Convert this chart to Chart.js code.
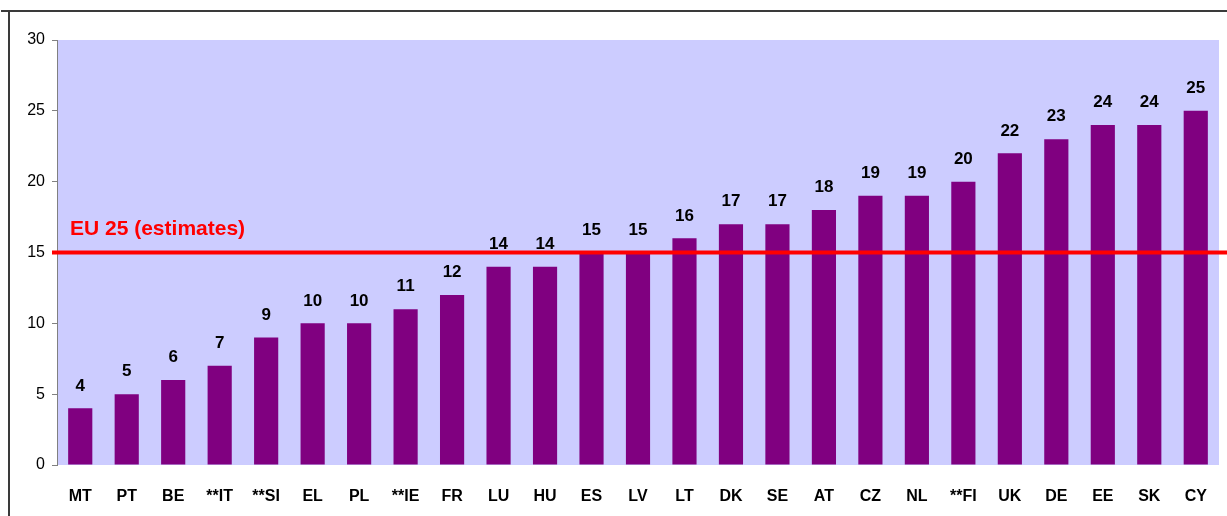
<!DOCTYPE html>
<html>
<head>
<meta charset="utf-8">
<script src="https://cdn.jsdelivr.net/npm/chart.js@4"></script>
<style>
    body { margin: 0; background: #ffffff; }
    #wrap { position: relative; width: 1227px; height: 516px; }
</style>
</head>
<body>
<div id="wrap"><canvas id="chart"></canvas></div>
<script>
// Chart data
const countries = ["MT", "PT", "BE", "**IT", "**SI", "EL", "PL", "**IE", "FR", "LU", "HU", "ES", "LV",
    "LT", "DK", "SE", "AT", "CZ", "NL", "**FI", "UK", "DE", "EE", "SK", "CY"];
const values = [4, 5, 6, 7, 9, 10, 10, 11, 12, 14, 14, 15, 15, 16, 17, 17, 18, 19, 19, 20, 22, 23, 24, 24, 25];
const euAverage = 15;
const euLabel = "EU 25 (estimates)";
const yTicks = [0, 5, 10, 15, 20, 25, 30];

const FONT = "Arial, 'Liberation Sans', sans-serif";

// background of plot area + outer frame
const backgroundPlugin = {
    id: "background",
    beforeDraw(chart) {
        const ctx = chart.ctx;
        const a = chart.chartArea;
        ctx.save();
        ctx.fillStyle = "#CCCCFF";
        ctx.fillRect(a.left, a.top, a.right - a.left, a.bottom - a.top);
        ctx.strokeStyle = "#3a3a3a";
        ctx.lineWidth = 2;
        ctx.beginPath();
        ctx.moveTo(1, 11);
        ctx.lineTo(chart.width, 11);
        ctx.moveTo(9, 11);
        ctx.lineTo(9, chart.height);
        ctx.stroke();
        ctx.restore();
    }
};

// value labels, EU line and its label
const overlayPlugin = {
    id: "overlay",
    afterDatasetsDraw(chart) {
        const ctx = chart.ctx;
        const meta = chart.getDatasetMeta(0);
        ctx.save();
        ctx.fillStyle = "#000000";
        ctx.font = "bold 17px " + FONT;
        ctx.textAlign = "center";
        ctx.textBaseline = "bottom";
        meta.data.forEach(function (bar, i) {
            ctx.fillText(String(values[i]), bar.x, bar.y - 14);
        });

        const y = chart.scales.y.getPixelForValue(euAverage);
        ctx.strokeStyle = "#FF0000";
        ctx.lineWidth = 4;
        ctx.beginPath();
        ctx.moveTo(52, y);
        ctx.lineTo(chart.width, y);
        ctx.stroke();

        ctx.fillStyle = "#FF0000";
        ctx.font = "bold 21px " + FONT;
        ctx.textAlign = "left";
        ctx.textBaseline = "middle";
        ctx.fillText(euLabel, 70, y - 23);
        ctx.restore();
    }
};

new Chart(document.getElementById("chart").getContext("2d"), {
    type: "bar",
    data: {
        labels: countries,
        datasets: [
            {
                data: values,
                backgroundColor: "#800080",
                borderWidth: 0,
                barPercentage: 0.52,
                categoryPercentage: 1.0,
            },
        ],
    },
    options: {
        responsive: true,
        maintainAspectRatio: false,
        animation: false,
        layout: { padding: { left: 0, top: 40, right: 8, bottom: 0 } },
        plugins: {
            legend: { display: false },
            tooltip: { enabled: false },
        },
        scales: {
            x: {
                grid: { display: false },
                border: { display: false },
                ticks: {
                    color: "#000000",
                    font: { family: FONT, size: 16, weight: "bold" },
                    padding: 14,
                    maxRotation: 0,
                    autoSkip: false,
                },
                afterFit: function (scale) {
                    scale.height = 51;
                },
            },
            y: {
                min: 0,
                max: 30,
                afterBuildTicks: function (scale) {
                    scale.ticks = yTicks.map((v) => ({ value: v }));
                },
                grid: {
                    drawOnChartArea: false,
                    drawTicks: true,
                    tickLength: 5,
                    color: "#808080",
                },
                border: { display: true, color: "#808080", width: 1 },
                ticks: {
                    color: "#000000",
                    font: { family: FONT, size: 16 },
                    padding: 7,
                },
                afterFit: function (scale) {
                    scale.width = 57;
                },
            },
        },
    },
    plugins: [backgroundPlugin, overlayPlugin],
});
</script>
</body>
</html>
